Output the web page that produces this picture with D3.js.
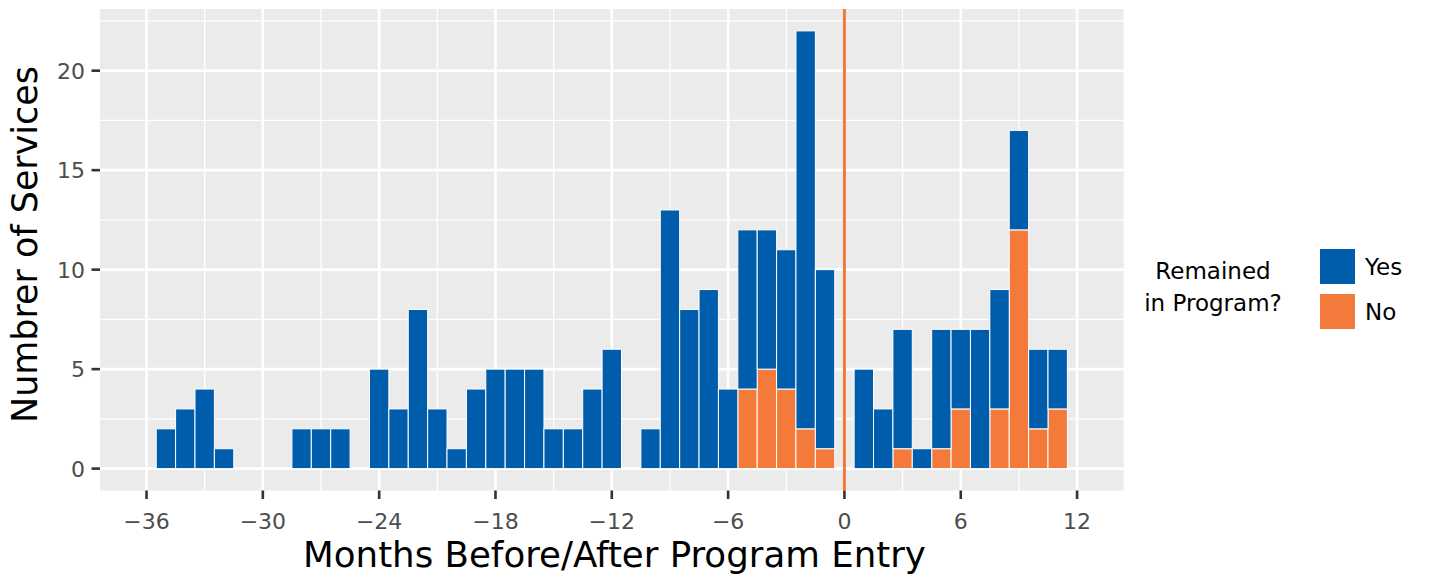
<!DOCTYPE html>
<html>
<head>
<meta charset="utf-8">
<script src="https://cdn.jsdelivr.net/npm/d3@7"></script>
<style>
  html, body { margin: 0; padding: 0; background: #fff; }
  svg { display: block; }
  text { font-family: "DejaVu Sans", sans-serif; }
</style>
</head>
<body>
<svg id="chart" width="1429" height="580"></svg>
<script>
// ---- data ----
const months = [-35,-34,-33,-32,-31,-30,-29,-28,-27,-26,-25,-24,-23,-22,-21,-20,-19,-18,-17,-16,-15,-14,-13,-12,-11,-10,-9,-8,-7,-6,-5,-4,-3,-2,-1,0,1,2,3,4,5,6,7,8,9,10,11];
const yesCounts = [2,3,4,1,0,0,0,2,2,2,0,5,3,8,3,1,4,5,5,5,2,2,4,6,0,2,13,8,9,4,8,7,7,20,9,0,5,3,6,1,6,4,7,6,5,4,3];
const noCounts  = [0,0,0,0,0,0,0,0,0,0,0,0,0,0,0,0,0,0,0,0,0,0,0,0,0,0,0,0,0,0,4,5,4,2,1,0,0,0,1,0,1,3,0,3,12,2,3];
const xTicks = [-36,-30,-24,-18,-12,-6,0,6,12];
const yTicks = [0,5,10,15,20];
const legendKeys = ["Yes","No"];
const legendTitle = ["Remained","in Program?"];
const xTitle = "Months Before/After Program Entry";
const yTitle = "Numbrer of Services";

// ---- layout ----
const colors = {Yes: "#005DAB", No: "#F37A3B"};
const panel = {left: 100, right: 1123.6, top: 9, bottom: 490.5};
const svg = d3.select("#chart");

const x = d3.scaleLinear().domain([-38.4, 14.4]).range([panel.left, panel.right]);
const y = d3.scaleLinear().domain([-1.1, 23.1]).range([panel.bottom, panel.top]);

// panel background
svg.append("rect").attr("x", panel.left).attr("y", panel.top)
  .attr("width", panel.right - panel.left).attr("height", panel.bottom - panel.top)
  .attr("fill", "#EBEBEB");

const grid = svg.append("g");
// minor grid
const xMinor = xTicks.map(d => d - 3).concat([15]).filter(d => d > -38.4 && d < 14.4);
const yMinor = [2.5, 7.5, 12.5, 17.5, 22.5];
grid.selectAll(".xminor").data(xMinor).join("line")
  .attr("x1", d => x(d)).attr("x2", d => x(d)).attr("y1", panel.top).attr("y2", panel.bottom)
  .attr("stroke", "#fff").attr("stroke-width", 1.3);
grid.selectAll(".yminor").data(yMinor).join("line")
  .attr("y1", d => y(d)).attr("y2", d => y(d)).attr("x1", panel.left).attr("x2", panel.right)
  .attr("stroke", "#fff").attr("stroke-width", 1.3);
// major grid
grid.selectAll(".xmajor").data(xTicks).join("line")
  .attr("x1", d => x(d)).attr("x2", d => x(d)).attr("y1", panel.top).attr("y2", panel.bottom)
  .attr("stroke", "#fff").attr("stroke-width", 2.6);
grid.selectAll(".ymajor").data(yTicks).join("line")
  .attr("y1", d => y(d)).attr("y2", d => y(d)).attr("x1", panel.left).attr("x2", panel.right)
  .attr("stroke", "#fff").attr("stroke-width", 2.6);

// bars
const table = months.map((m, i) => ({month: m, Yes: yesCounts[i], No: noCounts[i]}));
const stack = d3.stack().keys(["No", "Yes"]);
const series = stack(table);
const bw = x(1) - x(0);
svg.append("g").selectAll("g").data(series).join("g")
  .attr("fill", s => colors[s.key])
  .selectAll("rect").data(s => s.filter(d => d[1] - d[0] > 0)).join("rect")
  .attr("x", d => x(d.data.month - 0.5))
  .attr("width", bw)
  .attr("y", d => y(d[1]))
  .attr("height", d => y(d[0]) - y(d[1]))
  .attr("stroke", "#fff").attr("stroke-width", 1);

// vertical line at 0
svg.append("line").attr("x1", x(0)).attr("x2", x(0)).attr("y1", panel.top).attr("y2", panel.bottom)
  .attr("stroke", colors.No).attr("stroke-width", 3);

// axes ticks
svg.append("g").selectAll("line").data(xTicks).join("line")
  .attr("x1", d => x(d)).attr("x2", d => x(d)).attr("y1", panel.bottom).attr("y2", panel.bottom + 8.5)
  .attr("stroke", "#333").attr("stroke-width", 2.6);
svg.append("g").selectAll("line").data(yTicks).join("line")
  .attr("y1", d => y(d)).attr("y2", d => y(d)).attr("x1", panel.left - 8.5).attr("x2", panel.left)
  .attr("stroke", "#333").attr("stroke-width", 2.6);

const fmt = d => d < 0 ? "\u2212" + Math.abs(d) : String(d);
svg.append("g").selectAll("text").data(xTicks).join("text")
  .attr("x", d => x(d)).attr("y", 529)
  .attr("text-anchor", "middle").attr("fill", "#4D4D4D")
  .style("font-size", "22px")
  .text(fmt);
svg.append("g").selectAll("text").data(yTicks).join("text")
  .attr("x", 85).attr("y", d => y(d) + 8)
  .attr("text-anchor", "end").attr("fill", "#4D4D4D")
  .style("font-size", "22px")
  .text(d => d);

// titles
function fit(sel, target) {
  const w = sel.node().getComputedTextLength();
  const fs = parseFloat(sel.style("font-size"));
  sel.style("font-size", (fs * target / w) + "px");
}
const xt = svg.append("text").attr("x", 614.5).attr("y", 567)
  .attr("text-anchor", "middle").attr("fill", "#000")
  .style("font-size", "35px").text(xTitle);
fit(xt, 623);
const yt = svg.append("text").attr("transform", "translate(37,244.5) rotate(-90)")
  .attr("text-anchor", "middle").attr("fill", "#000")
  .style("font-size", "35px").text(yTitle);
fit(yt, 357);

// legend
const lg = svg.append("g");
lg.selectAll("text.title").data(legendTitle).join("text")
  .attr("class", "title")
  .attr("x", 1213).attr("y", (d, i) => 279 + i * 32)
  .attr("text-anchor", "middle").attr("fill", "#000")
  .style("font-size", "23px").text(d => d);
lg.selectAll("rect").data(legendKeys).join("rect")
  .attr("x", 1320).attr("y", (d, i) => 249 + i * 45)
  .attr("width", 35).attr("height", 35)
  .attr("fill", d => colors[d]);
lg.selectAll("text.key").data(legendKeys).join("text")
  .attr("class", "key")
  .attr("x", 1365).attr("y", (d, i) => 274.5 + i * 45)
  .attr("fill", "#000")
  .style("font-size", "23px").text(d => d);
</script>
</body>
</html>
